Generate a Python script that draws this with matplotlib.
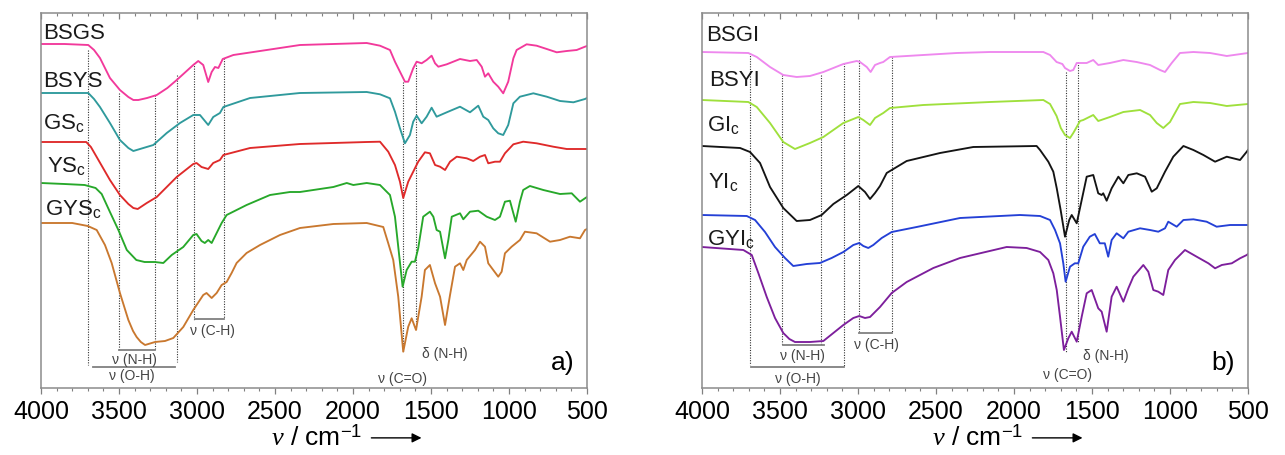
import matplotlib
matplotlib.use("Agg")
import matplotlib.pyplot as plt
import numpy as np

plt.rcParams['font.family'] = ['Liberation Sans', 'DejaVu Sans']
plt.rcParams['mathtext.fontset'] = 'custom'
plt.rcParams['mathtext.rm'] = 'Liberation Sans'
plt.rcParams['mathtext.it'] = 'Liberation Serif:italic'

# spectra: (wavenumber, offset signal, larger = lower on the plot)
BSGS = np.array([(4000, 44), (3850, 44), (3697, 45), (3660, 50), (3622, 58), (3558, 78), (3494, 90),
                 (3440, 97), (3408, 100), (3376, 100), (3320, 98), (3258, 95), (3190, 88), (3130, 80),
                 (3024, 65), (2992, 61), (2960, 65), (2928, 82), (2906, 72), (2885, 67), (2863, 68),
                 (2835, 59), (2767, 55), (2553, 50), (2340, 45), (1912, 43), (1827, 45.7), (1763, 50),
                 (1731, 61.7), (1699, 71.7), (1667, 81.7), (1646, 81.7), (1614, 68.3), (1592, 61.7),
                 (1560, 63.3), (1528, 60), (1496, 55.7), (1474, 63.3), (1453, 66.7), (1399, 64.3),
                 (1314, 59), (1250, 61), (1207, 60), (1175, 66.7), (1154, 76.7), (1133, 73.3),
                 (1101, 81.7), (1069, 86.7), (1037, 93.3), (1005, 81.7), (972, 58.3), (951, 50),
                 (887, 44.3), (823, 45.7), (758, 49), (694, 52.3), (630, 51), (566, 50), (513, 46.7),
                 (500, 46)])
BSYS = np.array([(4000, 93), (3850, 93), (3697, 93), (3660, 99), (3622, 107), (3558, 123), (3494, 140),
                 (3440, 148), (3408, 151), (3344, 148), (3280, 145), (3194, 133), (3109, 123), (3024, 115),
                 (2981, 115), (2928, 125), (2896, 117), (2853, 113), (2831, 107), (2660, 98), (2340, 93),
                 (1912, 92), (1827, 94.3), (1763, 98.3), (1731, 111.7), (1699, 128.3), (1667, 143.3),
                 (1635, 135), (1614, 121.7), (1592, 115.7), (1560, 123.3), (1528, 116.7), (1496, 107.7),
                 (1464, 116.7), (1399, 112.3), (1314, 106.7), (1250, 112.3), (1197, 105.7), (1165, 116.7),
                 (1133, 120), (1101, 128.3), (1069, 133.3), (1037, 135), (1005, 125), (972, 103.3),
                 (930, 96.7), (844, 93.3), (758, 96.7), (673, 101), (587, 102.3), (513, 99), (500, 98)])
GSc = np.array([(4000, 142), (3850, 142), (3710, 142), (3680, 147), (3643, 157), (3558, 180), (3494, 195),
                (3440, 204), (3408, 208), (3380, 209), (3322, 203), (3258, 197), (3130, 177), (3024, 164),
                (3003, 163), (2971, 167), (2928, 169), (2896, 163), (2853, 160), (2831, 155), (2660, 148),
                (2340, 144), (1912, 142), (1827, 141.7), (1774, 151.7), (1731, 165), (1699, 181.7),
                (1678, 198), (1646, 181.7), (1614, 171.7), (1582, 161.7), (1539, 152.3), (1507, 153.3),
                (1474, 165), (1442, 166.7), (1410, 170), (1378, 161.7), (1335, 156.7), (1271, 158.3),
                (1229, 161), (1186, 156.7), (1154, 155), (1133, 163.3), (1090, 161.7), (1058, 161.7),
                (1026, 153.3), (972, 144.3), (909, 141.7), (823, 143.3), (716, 146.7), (630, 149),
                (513, 149), (500, 149)])
YSc = np.array([(4000, 183), (3850, 184), (3720, 185), (3650, 188), (3611, 194), (3558, 212), (3504, 230),
                (3450, 250), (3389, 260), (3336, 262), (3270, 262), (3216, 263), (3162, 255), (3088, 247),
                (3024, 235), (3003, 234), (2971, 241), (2950, 243), (2928, 240), (2906, 243), (2874, 233),
                (2842, 223), (2810, 215), (2682, 205), (2532, 195), (2404, 192), (2340, 192), (2126, 187),
                (2040, 183), (1998, 185), (1912, 183), (1827, 185), (1763, 195), (1731, 216.7),
                (1710, 246.7), (1682, 286.7), (1656, 270), (1624, 261.7), (1603, 261.7), (1582, 248.3),
                (1550, 216.7), (1507, 211.7), (1485, 216.7), (1464, 230), (1442, 231.7), (1410, 258.3),
                (1389, 240), (1367, 216.7), (1314, 213.3), (1293, 219.3), (1250, 211.7), (1197, 210.7),
                (1143, 216.7), (1090, 220), (1058, 216.7), (1026, 201.7), (994, 200.7), (972, 213.3),
                (957, 221.7), (930, 201.7), (909, 190), (866, 186), (780, 190), (673, 194), (598, 193.3),
                (545, 201.7), (513, 198.3), (500, 197)])
GYSc = np.array([(4000, 223), (3800, 223), (3700, 226), (3643, 230), (3590, 245), (3547, 263), (3494, 293),
                 (3440, 320), (3410, 331), (3387, 337), (3360, 342), (3333, 345), (3269, 342), (3205, 341),
                 (3152, 338), (3088, 327), (3024, 310), (2960, 295), (2939, 293), (2906, 298), (2874, 293),
                 (2842, 285), (2810, 282), (2778, 273), (2746, 263), (2682, 253), (2596, 245), (2468, 235),
                 (2340, 228), (2126, 224), (1912, 223), (1806, 227), (1774, 243.3), (1742, 260),
                 (1710, 296.7), (1678, 351.7), (1646, 326.7), (1624, 318.3), (1596, 330), (1560, 296.7),
                 (1539, 270), (1507, 265), (1474, 283.3), (1442, 296.7), (1410, 325), (1378, 295),
                 (1346, 266.7), (1314, 263.3), (1293, 270), (1271, 260), (1218, 250), (1186, 241.7),
                 (1154, 246.7), (1133, 263.3), (1101, 270), (1069, 276.7), (1047, 271.7), (1026, 253.3),
                 (983, 246.7), (930, 240), (898, 231.7), (823, 233.3), (737, 241.7), (673, 240),
                 (609, 236.7), (545, 238.3), (513, 230), (500, 229)])

BSGI = np.array([(4000, 52), (3703, 53), (3649, 57), (3564, 67), (3479, 75), (3393, 77), (3308, 76),
                 (3222, 72), (3094, 64), (3008, 61), (2987, 62), (2944, 67), (2919, 72), (2891, 65),
                 (2859, 63), (2838, 62), (2795, 57), (2688, 56), (2367, 53), (2154, 52), (1812, 52),
                 (1769, 55), (1727, 62), (1690, 64), (1673, 68), (1641, 71), (1620, 70), (1598, 63),
                 (1534, 63), (1492, 60), (1460, 65), (1385, 63), (1299, 60), (1214, 62), (1128, 65),
                 (1064, 70), (1032, 72), (989, 63), (936, 53), (850, 52), (743, 53), (636, 56), (500, 53)])
BSYI = np.array([(4000, 100), (3703, 102), (3649, 107), (3564, 123), (3479, 142), (3404, 149), (3308, 143),
                 (3222, 137), (3094, 123), (2998, 117), (2966, 120), (2923, 125), (2891, 118), (2838, 113),
                 (2795, 108), (2581, 105), (2154, 102), (1812, 100), (1769, 104), (1727, 116), (1700, 128),
                 (1673, 135), (1641, 138), (1620, 133), (1598, 127), (1577, 121), (1556, 120), (1492, 115),
                 (1460, 121), (1385, 117), (1299, 112), (1192, 110), (1128, 115), (1085, 123), (1043, 128),
                 (1000, 122), (936, 104), (850, 102), (743, 103), (636, 106), (500, 104)])
GIc = np.array([(4000, 146), (3756, 148), (3692, 152), (3628, 163), (3564, 187), (3479, 208), (3393, 221),
                (3308, 220), (3233, 215), (3158, 204), (3072, 195), (2998, 186), (2955, 192), (2923, 199),
                (2891, 193), (2859, 186), (2816, 173), (2688, 161), (2474, 153), (2261, 147), (1855, 146),
                (1833, 150), (1780, 161.7), (1748, 171.7), (1726, 188.3), (1701, 210), (1673, 236.7),
                (1646, 220), (1630, 215), (1598, 223.3), (1566, 200), (1534, 176.7), (1492, 175),
                (1460, 193.3), (1438, 195), (1428, 193.3), (1406, 200.7), (1374, 188.3), (1331, 176.7),
                (1299, 183.3), (1267, 175), (1213, 173.3), (1160, 176.7), (1117, 191.7), (1085, 188.3),
                (1032, 171.7), (979, 156.7), (914, 146), (850, 150), (786, 155), (711, 161.7),
                (636, 156.7), (551, 160), (508, 151.7), (500, 150)])
YIc = np.array([(4000, 215), (3713, 216), (3660, 220), (3596, 232), (3532, 247), (3468, 258), (3415, 266),
                (3329, 264), (3244, 263), (3169, 258), (3094, 252), (3030, 245), (2992, 243), (2966, 246),
                (2934, 248), (2902, 245), (2848, 238), (2784, 232), (2624, 227), (2346, 218), (1962, 215),
                (1833, 216), (1769, 220), (1737, 230), (1705, 243.3), (1684, 263.3), (1669, 281.7),
                (1641, 266.7), (1610, 263.3), (1588, 263.3), (1556, 246.7), (1514, 236.7), (1482, 234),
                (1450, 243.3), (1418, 243.3), (1396, 256.7), (1374, 240), (1342, 233.3), (1299, 238.3),
                (1267, 231.7), (1192, 228.3), (1128, 230), (1075, 231.7), (1032, 228.3), (1011, 221.7),
                (957, 226.7), (914, 220), (850, 219.3), (765, 221.7), (701, 226.7), (615, 225),
                (508, 225), (500, 225)])
GYIc = np.array([(4000, 247), (3735, 250), (3681, 255), (3639, 273), (3585, 297), (3532, 318), (3479, 333),
                 (3440, 339), (3404, 342), (3308, 342), (3222, 341), (3158, 333), (3094, 325), (3030, 318),
                 (2992, 316), (2955, 318), (2923, 317), (2859, 307), (2784, 293), (2688, 282), (2517, 268),
                 (2346, 258), (2047, 247), (1919, 248), (1833, 252), (1780, 260), (1748, 273.3),
                 (1726, 290), (1705, 316.7), (1680, 350), (1652, 338.3), (1630, 331.7), (1598, 341.7),
                 (1566, 316.7), (1534, 293.3), (1502, 290), (1460, 308.3), (1438, 311.7), (1406, 331.7),
                 (1374, 296.7), (1342, 286.7), (1299, 301.7), (1267, 288.3), (1235, 276.7), (1171, 265),
                 (1139, 271.7), (1107, 290), (1075, 291.7), (1043, 295), (1011, 270), (968, 260),
                 (904, 250), (829, 256.7), (754, 263.3), (711, 268.3), (668, 265), (604, 263.3),
                 (551, 258.3), (508, 255), (500, 254)])

names_a = ["BSGS", "BSYS", "GS$_\\mathregular{c}$", "YS$_\\mathregular{c}$", "GYS$_\\mathregular{c}$"]
names_b = ["BSGI", "BSYI", "GI$_\\mathregular{c}$", "YI$_\\mathregular{c}$", "GYI$_\\mathregular{c}$"]
spectra_a = [BSGS, BSYS, GSc, YSc, GYSc]
spectra_b = [BSGI, BSYI, GIc, YIc, GYIc]
colors_a = ['#f2399b', '#2f9a9c', '#df2a2a', '#27a82a', '#c9782f']
colors_b = ['#ee88ee', '#9fe03c', '#141414', '#2440d6', '#7d1f9c']
# label anchor: (wavenumber, baseline)
label_pos_a = [(3985, 39), (3985, 87), (3985, 129), (3962, 172), (3975, 215)]
label_pos_b = [(3974, 41), (3955, 86), (3968, 131), (3962, 188), (3968, 245)]

# dotted guide lines: (wavenumber, top, bottom)
guides_a = [(3700, 50, 365), (3500, 93, 350), (3270, 95, 350), (3130, 75, 362), (3020, 63, 320),
            (2830, 58, 318), (1678, 82, 352), (1596, 65, 330)]
guides_b = [(3692, 53, 365), (3490, 75, 345), (3240, 75, 345), (3090, 63, 367), (2995, 60, 333),
            (2785, 57, 333), (1667, 72, 352), (1592, 62, 342)]
# brackets: (from, to, level)
brackets_a = [(3669, 3141, 367), (3500, 3270, 350), (3013, 2827, 319)]
brackets_b = [(3686, 3090, 367), (3481, 3218, 345), (2994, 2782, 333)]
# band labels: (text, wavenumber, level)
bands_a = [("ν (N-H)", 3404, 360), ("ν (O-H)", 3417, 376), ("ν (C-H)", 2904, 331),
           ("δ (N-H)", 1410, 354), ("ν (C=O)", 1680, 379)]
bands_b = [("ν (N-H)", 3359, 356), ("ν (O-H)", 3385, 379), ("ν (C-H)", 2885, 345),
           ("δ (N-H)", 1410, 356), ("ν (C=O)", 1654, 375)]


def panel(ax, spectra, colors, names, label_pos, guides, brackets, bands, tag):
    for g in guides:
        ax.plot([g[0], g[0]], [g[1], g[2]], ls=(0, (1, 1.3)), color='#333333', lw=0.8)
    for b in brackets:
        ax.plot([b[0], b[1]], [b[2], b[2]], color='#808080', lw=1.3)
    for s, c in zip(spectra, colors):
        ax.plot(s[:, 0], s[:, 1], color=c, lw=1.35)
    for n, p in zip(names, label_pos):
        ax.text(p[0], p[1], n, fontsize=16, ha='left', va='baseline', color='#1a1a1a')
    for t, x, y in bands:
        ax.text(x, y, t, fontsize=10, ha='center', va='center', color='#444444')
    ax.text(0.955, 0.067, tag, transform=ax.transAxes, fontsize=19, ha='center', va='center')

    ax.set_xlim(4000, 500)
    ax.set_ylim(388, 13)
    ax.set_yticks([])
    ax.set_xticks(np.arange(4000, 499, -500))
    ax.set_xticks(np.arange(4000, 499, -100), minor=True)
    ax.tick_params(axis='x', which='major', length=4.5, width=0.9, color='#808080',
                   labelsize=18, pad=4)
    ax.tick_params(axis='x', which='minor', length=2.5, width=0.8, color='#808080')
    top = ax.secondary_xaxis('top')
    top.set_xticks(np.arange(4000, 499, -500))
    top.set_xticks(np.arange(4000, 499, -100), minor=True)
    top.tick_params(axis='x', which='both', direction='in', labeltop=False, color='#808080')
    top.tick_params(axis='x', which='major', length=4.5, width=0.9)
    top.tick_params(axis='x', which='minor', length=2.5, width=0.8)
    top.spines['top'].set_visible(False)
    for sp in ax.spines.values():
        sp.set_color('#8c8c8c')
        sp.set_linewidth(1.1)

    ax.text(0.422, -0.133, "$\\nu$ / cm$^{\\mathregular{-1}}$", transform=ax.transAxes,
            fontsize=19, ha='left', va='center')
    ax.annotate("", xy=(0.702, -0.133), xytext=(0.6, -0.133), xycoords='axes fraction',
                arrowprops=dict(arrowstyle='-|>', color='black', lw=1.0,
                                mutation_scale=14))


fig = plt.figure(figsize=(12.85, 4.55), dpi=100)
ax1 = fig.add_axes([41 / 1285, 67 / 455, 546 / 1285, 375 / 455])
ax2 = fig.add_axes([702 / 1285, 67 / 455, 546 / 1285, 375 / 455])
panel(ax1, spectra_a, colors_a, names_a, label_pos_a, guides_a, brackets_a, bands_a, "a)")
panel(ax2, spectra_b, colors_b, names_b, label_pos_b, guides_b, brackets_b, bands_b, "b)")

fig.savefig("out.png", dpi=100)
